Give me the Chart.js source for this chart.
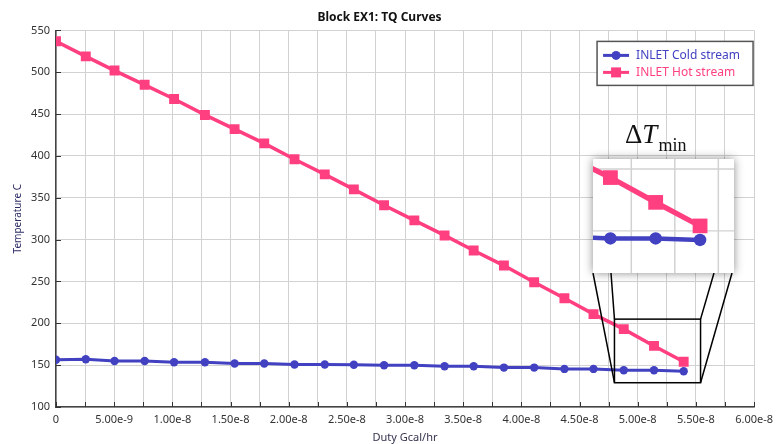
<!DOCTYPE html>
<html lang="en">
<head>
    <meta charset="UTF-8">
    <title>Block EX1: TQ Curves</title>
    <script src="https://cdn.jsdelivr.net/npm/chart.js"></script>
    <style>
        html, body { margin: 0; padding: 0; background: #fff; }
        .chart-wrap { width: 779px; height: 444px; position: relative; }
    </style>
</head>
<body>
    <div class="chart-wrap"><canvas id="tqChart"></canvas></div>

    <script>
        // duty (Gcal/hr), same for both streams
        const duty = [0, 2.56e-9, 5.03e-9, 7.62e-9, 1.015e-8, 1.28e-8, 1.535e-8, 1.79e-8, 2.05e-8, 2.31e-8, 2.56e-8,
            2.82e-8, 3.08e-8, 3.34e-8, 3.59e-8, 3.85e-8, 4.11e-8, 4.37e-8, 4.62e-8, 4.88e-8, 5.14e-8, 5.395e-8];
        const coldTemp = [156.5, 157, 155, 155, 153.5, 153.5, 152, 152, 150.7, 150.7, 150.5,
            149.9, 149.9, 148.7, 148.7, 147.1, 147.1, 145.5, 145.5, 143.9, 143.9, 142.7];
        const hotTemp = [537, 519, 502, 485, 468, 449, 432, 415, 396, 378, 360,
            341, 323, 305, 287, 269, 249, 230, 211, 193, 173, 154];
        const seriesNames = ['INLET Cold stream', 'INLET Hot stream'];
        const seriesColors = ['#4141c2', '#ff3f80'];

        // axis ticks
        const xTickValues = [0, 2.5e-9, 5e-9, 7.5e-9, 1e-8, 1.25e-8, 1.5e-8, 1.75e-8, 2e-8, 2.25e-8, 2.5e-8, 2.75e-8,
            3e-8, 3.25e-8, 3.5e-8, 3.75e-8, 4e-8, 4.25e-8, 4.5e-8, 4.75e-8, 5e-8, 5.25e-8, 5.5e-8, 5.75e-8, 6e-8];
        const xTickLabels = ['0', '', '5.00e-9', '', '1.00e-8', '', '1.50e-8', '', '2.00e-8', '', '2.50e-8', '',
            '3.00e-8', '', '3.50e-8', '', '4.00e-8', '', '4.50e-8', '', '5.00e-8', '', '5.50e-8', '', '6.00e-8'];
        const yTickValues = [100, 150, 200, 250, 300, 350, 400, 450, 500, 550];

        // zoom window shown in the inset (data units) and the marked rectangle
        const zoomSource = { xMin: 4.78e-8, xMax: 5.59e-8, yMin: 116, yMax: 208 };
        const zoomMark = { xMin: 4.80e-8, xMax: 5.54e-8, yMin: 129, yMax: 205 };

        const uiFont = '"Noto Sans", "Open Sans", sans-serif';

        // tick marks pointing inward, zoom inset, ΔTmin label, legend box
        const extrasPlugin = {
            id: 'extras',
            afterDraw(chart, args, opts) {
                const ctx = chart.ctx;
                const xs = chart.scales.x, ys = chart.scales.y;
                const area = chart.chartArea;

                // inward ticks
                ctx.save();
                ctx.strokeStyle = '#333';
                ctx.lineWidth = 1;
                ctx.beginPath();
                xs.ticks.forEach(t => {
                    const px = Math.round(xs.getPixelForValue(t.value)) + 0.5;
                    ctx.moveTo(px, area.bottom);
                    ctx.lineTo(px, area.bottom - 5);
                });
                ys.ticks.forEach(t => {
                    const py = Math.round(ys.getPixelForValue(t.value)) + 0.5;
                    ctx.moveTo(area.left, py);
                    ctx.lineTo(area.left + 5, py);
                });
                ctx.stroke();
                ctx.restore();

                // marked rectangle
                const mx0 = xs.getPixelForValue(zoomMark.xMin), mx1 = xs.getPixelForValue(zoomMark.xMax);
                const my0 = ys.getPixelForValue(zoomMark.yMax), my1 = ys.getPixelForValue(zoomMark.yMin);
                const box = opts.inset;
                const bb = box.y + box.h;
                ctx.save();
                ctx.strokeStyle = '#000';
                ctx.lineWidth = 1.5;
                ctx.strokeRect(mx0, my0, mx1 - mx0, my1 - my0);
                ctx.beginPath();
                ctx.moveTo(box.x, bb); ctx.lineTo(mx0, my1);
                ctx.moveTo(box.x + 18, bb); ctx.lineTo(mx0, my0);
                ctx.moveTo(box.x + box.w - 20, bb); ctx.lineTo(mx1, my0);
                ctx.moveTo(box.x + box.w - 2, bb); ctx.lineTo(mx1, my1);
                ctx.stroke();
                ctx.restore();

                // inset background with shadow
                ctx.save();
                ctx.shadowColor = 'rgba(0,0,0,0.45)';
                ctx.shadowBlur = 9;
                ctx.fillStyle = '#fff';
                ctx.fillRect(box.x, box.y, box.w, box.h);
                ctx.restore();

                // inset content: same elements, magnified
                const sx0 = xs.getPixelForValue(zoomSource.xMin), sx1 = xs.getPixelForValue(zoomSource.xMax);
                const sy0 = ys.getPixelForValue(zoomSource.yMax), sy1 = ys.getPixelForValue(zoomSource.yMin);
                ctx.save();
                ctx.beginPath();
                ctx.rect(box.x, box.y, box.w, box.h);
                ctx.clip();
                ctx.translate(box.x, box.y);
                ctx.scale(box.w / (sx1 - sx0), box.h / (sy1 - sy0));
                ctx.translate(-sx0, -sy0);
                ctx.strokeStyle = '#d2d2d2';
                ctx.lineWidth = 1;
                ctx.beginPath();
                xs.ticks.forEach(t => {
                    const px = xs.getPixelForValue(t.value);
                    ctx.moveTo(px, sy0 - 5); ctx.lineTo(px, sy1 + 5);
                });
                ys.ticks.forEach(t => {
                    const py = ys.getPixelForValue(t.value);
                    ctx.moveTo(sx0 - 5, py); ctx.lineTo(sx1 + 5, py);
                });
                ctx.stroke();
                chart.data.datasets.forEach((ds, i) => {
                    const meta = chart.getDatasetMeta(i);
                    meta.dataset.draw(ctx);
                    meta.data.forEach(p => p.draw(ctx));
                });
                ctx.restore();

                // ΔTmin label
                ctx.save();
                ctx.fillStyle = '#111';
                ctx.textBaseline = 'alphabetic';
                let lx = box.x + 32;
                ctx.font = '27px "Liberation Serif", "DejaVu Serif", serif';
                ctx.fillText('Δ', lx, box.y - 16);
                lx += ctx.measureText('Δ').width;
                ctx.font = 'italic 27px "Liberation Serif", "DejaVu Serif", serif';
                ctx.fillText('T', lx, box.y - 16);
                lx += ctx.measureText('T').width + 1;
                ctx.font = '18px "Liberation Serif", "DejaVu Serif", serif';
                ctx.fillText('min', lx, box.y - 8);
                ctx.restore();

                // legend
                const lg = opts.legend;
                const lgx = area.right - lg.w - 1, lgy = area.top + 11;
                ctx.save();
                ctx.fillStyle = '#fff';
                ctx.fillRect(lgx, lgy, lg.w, lg.h);
                ctx.strokeStyle = '#555';
                ctx.lineWidth = 1.5;
                ctx.strokeRect(lgx, lgy, lg.w, lg.h);
                ctx.font = '12px ' + uiFont;
                ctx.textBaseline = 'middle';
                seriesNames.forEach((name, i) => {
                    const cy = lgy + 14 + i * 17;
                    ctx.strokeStyle = seriesColors[i];
                    ctx.fillStyle = seriesColors[i];
                    ctx.lineWidth = 3;
                    ctx.beginPath();
                    ctx.moveTo(lgx + 6, cy);
                    ctx.lineTo(lgx + 32, cy);
                    ctx.stroke();
                    ctx.beginPath();
                    if (i === 0) {
                        ctx.arc(lgx + 19, cy, 4.5, 0, Math.PI * 2);
                    } else {
                        ctx.rect(lgx + 14, cy - 5, 10, 10);
                    }
                    ctx.fill();
                    ctx.fillText(name, lgx + 39, cy);
                });
                ctx.restore();
            }
        };

        window.onload = function() {
            new Chart(document.getElementById('tqChart'), {
                type: 'line',
                data: {
                    datasets: [
                        {
                            label: seriesNames[0],
                            data: duty.map((d, i) => ({ x: d, y: coldTemp[i] })),
                            borderColor: seriesColors[0],
                            backgroundColor: seriesColors[0],
                            borderWidth: 3,
                            pointStyle: 'circle',
                            pointRadius: 4.2,
                            pointBorderWidth: 0,
                            tension: 0
                        },
                        {
                            label: seriesNames[1],
                            data: duty.map((d, i) => ({ x: d, y: hotTemp[i] })),
                            borderColor: seriesColors[1],
                            backgroundColor: seriesColors[1],
                            borderWidth: 3.5,
                            pointStyle: 'rect',
                            pointRadius: 7,
                            pointBorderWidth: 0,
                            tension: 0
                        }
                    ]
                },
                options: {
                    responsive: true,
                    maintainAspectRatio: false,
                    animation: false,
                    events: [],
                    layout: { padding: { left: 0, right: 20, top: 0, bottom: 0 } },
                    scales: {
                        x: {
                            type: 'linear',
                            min: 0,
                            max: 6e-8,
                            afterBuildTicks: s => { s.ticks = xTickValues.map(v => ({ value: v })); },
                            afterFit: s => { s.height = 37; },
                            ticks: {
                                autoSkip: false,
                                maxRotation: 0,
                                padding: 6,
                                color: '#333',
                                font: { family: uiFont, size: 11 },
                                callback: (v, i) => xTickLabels[i]
                            },
                            grid: { color: '#d2d2d2', drawTicks: false },
                            border: { color: '#444', width: 1.5 },
                            title: {
                                display: true,
                                text: 'Duty Gcal/hr',
                                color: '#33334d',
                                font: { family: uiFont, size: 11 },
                                padding: { top: 0, bottom: 0 }
                            }
                        },
                        y: {
                            min: 100,
                            max: 550,
                            afterBuildTicks: s => { s.ticks = yTickValues.map(v => ({ value: v })); },
                            afterFit: s => { s.width = 56; },
                            ticks: {
                                padding: 6,
                                color: '#333',
                                font: { family: uiFont, size: 11 }
                            },
                            grid: { color: '#d2d2d2', drawTicks: false },
                            border: { color: '#444', width: 1.5 },
                            title: {
                                display: true,
                                text: 'Temperature C',
                                color: '#2d2d66',
                                font: { family: uiFont, size: 10 },
                                padding: { top: 12, bottom: 0 }
                            }
                        }
                    },
                    plugins: {
                        legend: { display: false },
                        tooltip: { enabled: false },
                        title: {
                            display: true,
                            text: 'Block EX1: TQ Curves',
                            color: '#111',
                            font: { family: uiFont, size: 12, weight: 'bold' },
                            padding: { top: 10, bottom: 6 }
                        },
                        extras: {
                            inset: { x: 593, y: 159, w: 141, h: 114 },
                            legend: { w: 156, h: 44 }
                        }
                    }
                },
                plugins: [extrasPlugin]
            });
        };
    </script>
</body>
</html>
